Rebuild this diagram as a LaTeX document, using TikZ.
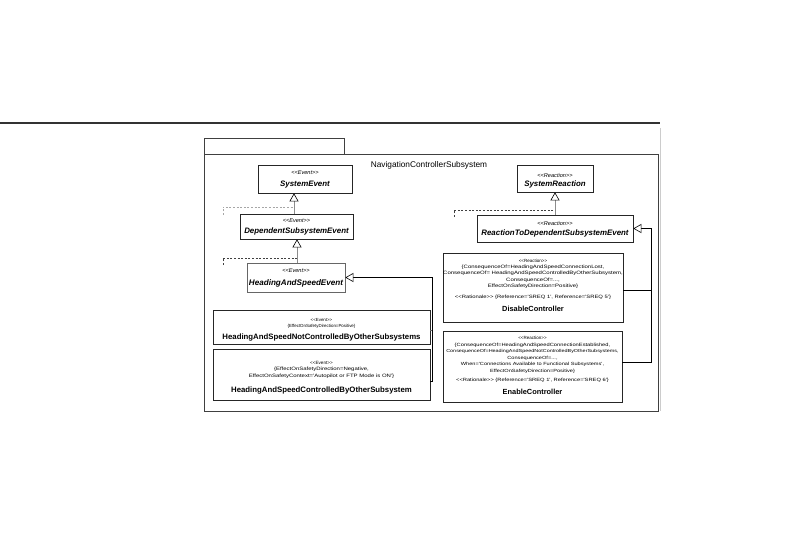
\documentclass[tikz,border=0pt]{standalone}
\usepackage{fontspec}
\usetikzlibrary{arrows.meta,calc}
\newfontfamily\uml{Liberation Sans}
\newfontfamily\umlw{Liberation Sans}[FakeStretch=1.25]
\newcommand{\fsz}[1]{\fontsize{#1}{#1}\selectfont}
\begin{document}
\begin{tikzpicture}[x=1pt,y=-1pt,
  box/.style={draw=black!85, line width=0.7pt, fill=white, inner sep=0pt, rectangle},
  frm/.style={draw=black!75, line width=0.7pt, inner sep=0pt, rectangle},
  txt/.style={inner sep=0pt, anchor=center, font=\uml},
  ster/.style={txt, font=\uml\fsz{5.6}\itshape},
  aname/.style={txt, font=\uml\fsz{7.9}\bfseries\itshape},
  cname/.style={txt, font=\uml\fsz{7.8}\bfseries},
  small/.style={txt, font=\umlw\fsz{4.8}},
  esmall/.style={txt, font=\umlw\fsz{4.5}},
  gen/.style={draw=black, line width=0.6pt, -{Triangle[open, length=8pt, width=9pt, fill=white, color=black]}},
  genv/.style={gen, draw=black!45},
  dsh/.style={dash pattern=on 2pt off 1.6pt, line width=0.6pt}]
\useasboundingbox (0,0) rectangle (796,550);

% top rule and faint edge
\draw[line width=1.8pt, black!80] (0,123) -- (660,123);
\draw[line width=0.6pt, black!20] (660,128) -- (660,411);

% package frame
\node[frm, minimum width=140pt, minimum height=16pt] (pkgtab) at (274,146) {};
\node[frm, minimum width=454pt, minimum height=257pt] (pkg) at (431,282.5) {};
\node[txt, font=\uml\fsz{8.3}] (title) at (429,165) {NavigationControllerSubsystem};

% left column
\node[box, minimum width=94pt, minimum height=28pt] (se) at (305,179) {};
\node[ster] (se-s) at (305,172.5) {<<Event>>};
\node[aname] (se-n) at (305,185) {SystemEvent};

\node[box, minimum width=113pt, minimum height=25pt] (dse) at (296.5,226.5) {};
\node[ster] (dse-s) at (296.5,220.5) {<<Event>>};
\node[aname] (dse-n) at (296.5,231) {DependentSubsystemEvent};

\node[box, draw=black!60, minimum width=98pt, minimum height=29pt] (hase) at (296,277.5) {};
\node[ster] (hase-s) at (296,270.5) {<<Event>>};
\node[aname, font=\uml\fsz{8.1}\bfseries\itshape] (hase-n) at (296,283) {HeadingAndSpeedEvent};

\node[box, minimum width=217pt, minimum height=34pt] (hsn) at (321.5,327) {};
\node[txt, font=\uml\fsz{4.4}] (hsn-s) at (321.5,320) {<<Event>>};
\node[txt, font=\uml\fsz{4.4}] (hsn-t) at (321.5,326) {\{EffectOnSafetyDirection=Positive\}};
\node[cname] (hsn-n) at (321.5,337.5) {HeadingAndSpeedNotControlledByOtherSubsystems};

\node[box, minimum width=217pt, minimum height=51pt] (hsc) at (321.5,374.5) {};
\node[txt, font=\uml\fsz{4.6}] (hsc-s) at (321.5,362.5) {<<Event>>};
\node[small] (hsc-t1) at (321.5,369.5) {\{EffectOnSafetyDirection=Negative,};
\node[small] (hsc-t2) at (321.5,376) {EffectOnSafetyContext='Autopilot or FTP Mode is ON'\}};
\node[cname] (hsc-n) at (321.5,390) {HeadingAndSpeedControlledByOtherSubsystem};

% right column
\node[box, minimum width=76pt, minimum height=27pt] (sr) at (555,178.5) {};
\node[ster] (sr-s) at (555,175) {<<Reaction>>};
\node[aname] (sr-n) at (555,184.5) {SystemReaction};

\node[box, minimum width=156pt, minimum height=27pt] (rtd) at (555,228.5) {};
\node[ster] (rtd-s) at (555,223) {<<Reaction>>};
\node[aname] (rtd-n) at (555,233.5) {ReactionToDependentSubsystemEvent};

\node[box, minimum width=180pt, minimum height=69pt] (dis) at (533,287.5) {};
\node[txt, font=\uml\fsz{4.5}] (dis-s) at (533,260.5) {<<Reaction>>};
\node[small] (dis-1) at (533,267) {\{ConsequenceOf=HeadingAndSpeedConnectionLost,};
\node[small] (dis-2) at (533,273.5) {ConsequenceOf= HeadingAndSpeedControlledByOtherSubsystem,};
\node[small] (dis-3) at (533,280) {ConsequenceOf=...,};
\node[small] (dis-4) at (533,286.5) {EffectOnSafetyDirection=Positive\}};
\node[small, font=\umlw\fsz{4.7}] (dis-r) at (533,297.5) {<<Rationale>> \{Reference='SREQ 1', Reference='SREQ 5'\}};
\node[txt, font=\uml\fsz{7.4}\bfseries] (dis-n) at (533,309) {DisableController};

\node[box, minimum width=179pt, minimum height=71pt] (en) at (532.5,366.5) {};
\node[txt, font=\uml\fsz{4.5}] (en-s) at (532.5,338) {<<Reaction>>};
\node[esmall, font=\umlw\fsz{4.6}] (en-1) at (532.5,345) {\{ConsequenceOf=HeadingAndSpeedConnectionEstablished,};
\node[esmall, font=\umlw\fsz{4.35}] (en-2) at (532.5,351.5) {ConsequenceOf=HeadingAndSpeedNotControlledByOtherSubsystems,};
\node[esmall] (en-3) at (532.5,358) {ConsequenceOf=...,};
\node[esmall] (en-4) at (532.5,364.5) {When='Connections Available to Functional Subsystems',};
\node[esmall] (en-5) at (532.5,371) {EffectOnSafetyDirection=Positive\}};
\node[esmall, font=\umlw\fsz{4.6}] (en-r) at (532.5,380.5) {<<Rationale>> \{Reference='SREQ 1', Reference='SREQ 6'\}};
\node[txt, font=\uml\fsz{7.4}\bfseries] (en-n) at (532.5,392) {EnableController};

% helper coordinates
\coordinate (gx1) at (294,0);
\coordinate (gx2) at (297,0);
\coordinate (tx1) at (432,0);
\coordinate (tx2) at (651,0);
\coordinate (d1a) at (223,215);
\coordinate (d1b) at (294,207);
\coordinate (d2a) at (223,265);
\coordinate (d2b) at (297,258);
\coordinate (d3a) at (454,217);
\coordinate (d3b) at (555,210);

% generalizations (vertical)
\draw[genv] (gx1 |- dse.north) -- (gx1 |- se.south);
\draw[genv] (gx2 |- hase.north) -- (gx2 |- dse.south);
\draw[genv] (rtd.north) -- (sr.south);

% dashed stubs
\draw[dsh, black!35] (d1a) |- (d1b);
\draw[dsh, black!75] (d2a) |- (d2b);
\draw[dsh, black!75] (d3a) |- (d3b);

% generalization trees
\draw[gen] ($(hsc.north east)+(0,33)$) -| (tx1 |- hase.east) -- (hase.east);
\draw[line width=0.6pt, black!60] ($(hsn.east)+(0,3)$) -- (tx1 |- 0,330);
\draw[gen] ($(en.north east)+(0,32)$) -| (tx2 |- rtd.east) -- (rtd.east);
\draw[line width=0.6pt] ($(dis.east)+(0,3)$) -- (tx2 |- 0,290.5);
\end{tikzpicture}
\end{document}
